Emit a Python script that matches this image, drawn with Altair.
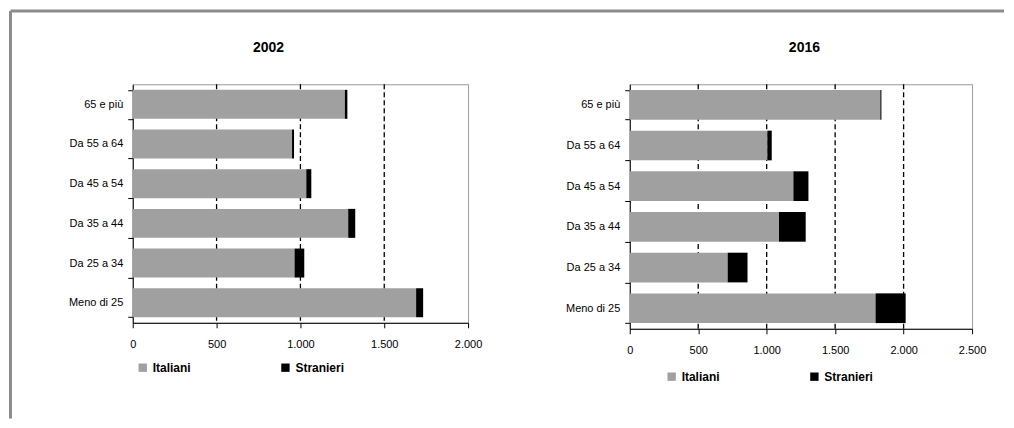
import altair as alt
import pandas as pd

categories = ["65 e più", "Da 55 a 64", "Da 45 a 54", "Da 35 a 44", "Da 25 a 34", "Meno di 25"]
groups = ["Italiani", "Stranieri"]

italiani_2002 = [1265, 950, 1035, 1285, 965, 1690]
stranieri_2002 = [15, 12, 30, 42, 58, 42]
italiani_2016 = [1830, 1005, 1195, 1090, 715, 1795]
stranieri_2016 = [8, 32, 110, 195, 145, 220]

ticks_2002 = [0, 500, 1000, 1500, 2000]
ticks_2016 = [0, 500, 1000, 1500, 2000, 2500]
grid_2002 = [500, 1000, 1500]
grid_2016 = [500, 1000, 1500, 2000]

FONT = "Liberation Sans"
GRAY = "#a0a0a0"


def long_df(ital, stran):
    rows = []
    for c, a, b in zip(categories, ital, stran):
        rows.append({"cat": c, "prov": "Italiani", "val": a, "ord": 0})
        rows.append({"cat": c, "prov": "Stranieri", "val": b, "ord": 1})
    return pd.DataFrame(rows)


label_expr = "replace(format(datum.value, ','), ',', '.')"


def panel(title, tx, ital, stran, ticks, grid, width, height, legx, legy, frame=False):
    df = long_df(ital, stran)
    xscale = alt.Scale(domain=[ticks[0], ticks[-1]], nice=False)
    xaxis = alt.Axis(values=ticks, labelExpr=label_expr, grid=False, domainColor="black",
                     tickColor="black", tickSize=5, labelPadding=11, labelFontSize=11,
                     labelFont=FONT, labelColor="black", title=None, labelFlush=False)
    yaxis = alt.Axis(title=None, domainColor="black", tickColor="black", tickSize=5,
                     tickBand="extent", labelPadding=5, labelFontSize=11, labelFont=FONT,
                     labelColor="black")
    rules = alt.Chart(pd.DataFrame({"g": grid})).mark_rule(
        color="black", strokeDash=[5, 3], strokeWidth=1.3
    ).encode(x=alt.X("g:Q", scale=xscale, axis=xaxis))
    bars = alt.Chart(df).mark_bar().encode(
        y=alt.Y("cat:N", sort=categories, axis=yaxis,
                scale=alt.Scale(paddingInner=0.27, paddingOuter=0.14)),
        x=alt.X("val:Q", stack="zero", scale=xscale, axis=xaxis),
        color=alt.Color("prov:N", scale=alt.Scale(domain=groups, range=[GRAY, "black"]),
                        legend=alt.Legend(orient="none", legendX=legx, legendY=legy,
                                          direction="horizontal", title=None,
                                          symbolType="square", symbolSize=70,
                                          symbolStrokeWidth=0, labelFontWeight="bold",
                                          labelFontSize=12, labelFont=FONT,
                                          labelColor="black", columnPadding=88)),
        order=alt.Order("ord:Q"),
    )
    head = alt.Chart(pd.DataFrame({"t": [title]})).mark_text(
        font=FONT, fontSize=14, fontWeight="bold", color="black",
        align="center", baseline="middle"
    ).encode(text="t:N", x=alt.value(tx), y=alt.value(-36))
    layers = [rules, bars, head]
    if frame:
        one = pd.DataFrame({"a": [0]})
        vline = alt.Chart(one).mark_rule(color="#8c8c8c", strokeWidth=3).encode(
            x=alt.value(-122.5), y=alt.value(-73.5), y2=alt.value(335))
        hline = alt.Chart(one).mark_rule(color="#8c8c8c", strokeWidth=3).encode(
            x=alt.value(-122.5), x2=alt.value(873), y=alt.value(-73.5))
        layers += [vline, hline]
    return alt.layer(*layers).properties(width=width, height=height)


left = panel("2002", 136, italiani_2002, stranieri_2002, ticks_2002, grid_2002,
             336, 239, 4, 278, frame=True)
right = panel("2016", 175, italiani_2016, stranieri_2016, ticks_2016, grid_2016,
              343, 245, 36, 287)

chart = alt.hconcat(left, right, spacing=162, bounds="flush").resolve_scale(
    color="independent", x="independent", y="independent"
).properties(padding=0).configure_view(stroke="#999999", strokeWidth=1)

chart.save("out.html", embed_options={"renderer": "svg", "actions": False})
